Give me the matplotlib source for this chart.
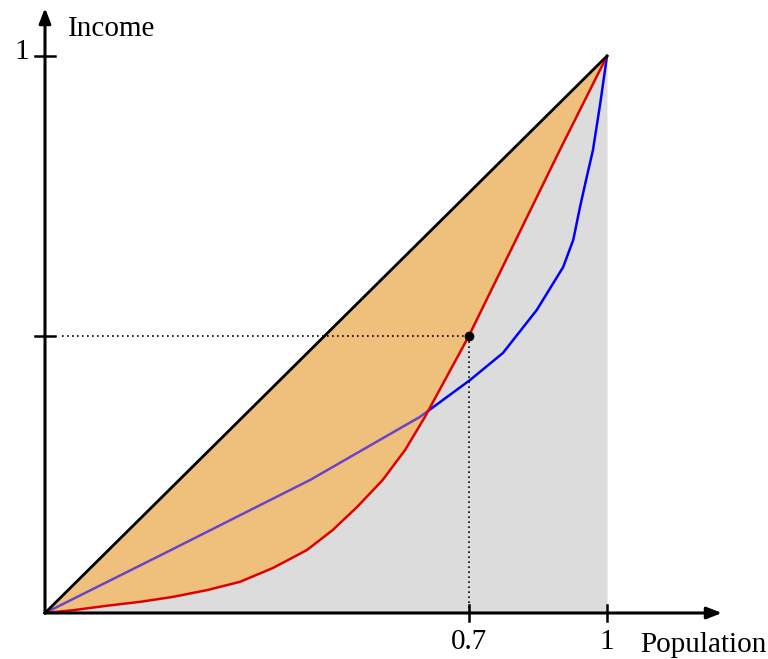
import numpy as np
import matplotlib.pyplot as plt
from matplotlib.patches import Polygon

# Lorenz curves (x = population share, y = income share)
red_x = [0.0, 0.050, 0.110, 0.169, 0.228, 0.288, 0.347, 0.406, 0.466, 0.512,
         0.555, 0.601, 0.641, 0.676, 0.754, 0.916, 1.0]
red_y = [0.0, 0.005, 0.013, 0.020, 0.029, 0.041, 0.056, 0.081, 0.113, 0.149,
         0.190, 0.239, 0.293, 0.352, 0.497, 0.831, 1.0]

blue_x = [0.0, 0.228, 0.472, 0.667, 0.756, 0.815, 0.875, 0.922, 0.940, 0.952,
          0.964, 0.975, 0.988, 1.0]
blue_y = [0.0, 0.115, 0.239, 0.352, 0.418, 0.467, 0.544, 0.621, 0.670, 0.729,
          0.783, 0.831, 0.915, 1.0]

point_x, point_y = 0.754, 0.497
x_ticks = [0.754, 1.0]
x_tick_labels = ['0.7', '1']
y_ticks = [0.497, 1.0]
y_tick_labels = ['', '1']

plt.rcParams['font.family'] = ['Liberation Serif', 'DejaVu Serif']

fig = plt.figure(figsize=(7.68, 6.59), dpi=100)
ax = fig.add_axes([0, 0, 1, 1])
ax.set_xlim(-45 / 562, 723 / 562)
ax.set_ylim(-46 / 557, 613 / 557)
ax.axis('off')

# gray area under the red curve, orange between the diagonal and the red curve
ax.fill_between(red_x, 0, red_y, color='#dcdcdc', lw=0, zorder=1)
orange = Polygon(list(zip(red_x, red_y)) + [(1, 1), (0, 0)], closed=True,
                 facecolor='#efbf7c', edgecolor='none', zorder=3)
ax.add_patch(orange)

ax.plot(blue_x, blue_y, color='#0000ff', lw=1.8, zorder=2)
# the blue line shows through the orange fill as purple
inside, = ax.plot(blue_x, blue_y, color='#6a45c8', lw=1.8, zorder=3.5)
inside.set_clip_path(orange)
ax.plot(red_x, red_y, color='#e00000', lw=1.8, zorder=3.6)
ax.plot([0, 1], [0, 1], color='black', lw=2, zorder=4)

# dotted guides and the point
ax.plot([0.03, point_x], [point_y, point_y], ls=(0, (1, 2)), color='black', lw=1.2, zorder=5)
ax.plot([point_x, point_x], [0, point_y], ls=(0, (1, 2)), color='black', lw=1.2, zorder=5)
ax.plot(point_x, point_y, 'o', color='black', ms=6, zorder=6)

# axes with arrows
arrow = dict(arrowstyle='-|>,head_length=0.9,head_width=0.35', color='black', lw=2.2,
             shrinkA=0, shrinkB=0)
ax.annotate('', xy=(677 / 562, 0), xytext=(0, 0), arrowprops=arrow, zorder=7)
ax.annotate('', xy=(0, 605 / 557), xytext=(0, 0), arrowprops=arrow, zorder=7)

for xt, lab in zip(x_ticks, x_tick_labels):
    ax.plot([xt, xt], [-0.015, 0.015], color='black', lw=1.8, zorder=7)
    ax.text(xt, -0.028, lab, ha='center', va='top', fontsize=21)
for yt, lab in zip(y_ticks, y_tick_labels):
    ax.plot([-0.017, 0.017], [yt, yt], color='black', lw=1.8, zorder=7)
    if lab:
        ax.text(-0.028, yt + 0.008, lab, ha='right', va='center', fontsize=21)

ax.text(23 / 562, 584 / 557, 'Income', ha='left', va='center', fontsize=21)
ax.text(595 / 562, -32 / 557, 'Population', ha='left', va='center', fontsize=21)

fig.savefig('out.png', dpi=100)
